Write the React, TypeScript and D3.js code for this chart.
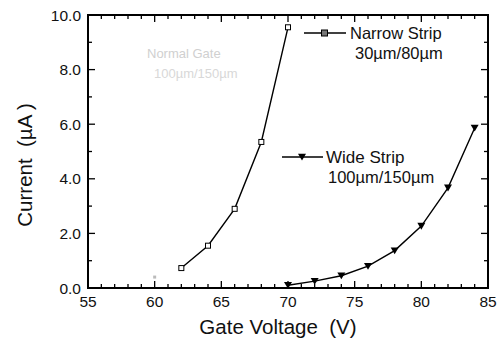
import React from "react";
import * as d3 from "d3";

const narrowX = [62, 64, 66, 68, 70];
const narrowY = [0.73, 1.55, 2.9, 5.35, 9.55];
const wideX = [70, 72, 74, 76, 78, 80, 82, 84];
const wideY = [0.1, 0.25, 0.45, 0.8, 1.37, 2.27, 3.67, 5.86];
const faintX = [60];
const faintY = [0.4];
const xTicks = [55, 60, 65, 70, 75, 80, 85];
const yTicks = [0, 2, 4, 6, 8, 10];
const xLabel = "Gate Voltage\u00a0 (V)";
const yLabel = "Current\u00a0 (\u00b5A )";

const W = 501, H = 341;
const L = 88, R = 488, T = 15, B = 288;

export default function App() {
  const x = d3.scaleLinear().domain([55, 85]).range([L, R]);
  const y = d3.scaleLinear().domain([0, 10]).range([B, T]);
  const line = d3.line<[number, number]>().x(d => x(d[0])).y(d => y(d[1]));
  const narrow = narrowX.map((v, i) => [v, narrowY[i]] as [number, number]);
  const wide = wideX.map((v, i) => [v, wideY[i]] as [number, number]);
  const xMinor = d3.range(55, 86, 1);
  const yMinor = d3.range(0, 10.01, 1);
  const font = "'Liberation Sans', Arial, sans-serif";
  const tri = (cx: number, cy: number, s: number) =>
    `M${cx - s},${cy - s * 0.8}L${cx + s},${cy - s * 0.8}L${cx},${cy + s * 0.9}Z`;
  return (
    <svg width={W} height={H} style={{ position: "absolute", left: 0, top: 0, background: "#fff" }} fontFamily={font}>
      <rect x={0} y={0} width={W} height={H} fill="#fff" />
      {xMinor.map(v => {
        const major = v % 5 === 0;
        const len = major ? 7 : 4;
        return (
          <g key={"x" + v} stroke="#000" strokeWidth={1.3}>
            <line x1={x(v)} x2={x(v)} y1={B} y2={B - len} />
            <line x1={x(v)} x2={x(v)} y1={T} y2={T + len} />
          </g>
        );
      })}
      {yMinor.map(v => {
        const major = v % 2 === 0;
        const len = major ? 7 : 4;
        return (
          <g key={"y" + v} stroke="#000" strokeWidth={1.3}>
            <line x1={L} x2={L + len} y1={y(v)} y2={y(v)} />
            <line x1={R} x2={R - len} y1={y(v)} y2={y(v)} />
          </g>
        );
      })}
      <rect x={L} y={T} width={R - L} height={B - T} fill="none" stroke="#000" strokeWidth={2} />
      {xTicks.map(v => (
        <text key={"xl" + v} x={x(v)} y={B + 19} fontSize={15.5} textAnchor="middle" fill="#111">{v}</text>
      ))}
      {yTicks.map(v => (
        <text key={"yl" + v} x={L - 7} y={y(v) + 5.5} fontSize={15.5} textAnchor="end" fill="#111">{v.toFixed(1)}</text>
      ))}
      <text x={(L + R) / 2 - 10} y={B + 46} fontSize={20.5} textAnchor="middle" fill="#111">{xLabel}</text>
      <text transform={`translate(32,165) rotate(-90)`} fontSize={20.5} textAnchor="middle" fill="#111">{yLabel}</text>

      {faintX.map((v, i) => (
        <rect key={"f" + i} x={x(v) - 1.5} y={y(faintY[i]) - 1.5} width={3} height={3} fill="#bbb" />
      ))}
      <text x={147} y={58} fontSize={13} fill="#d0d0d0">Normal Gate</text>
      <text x={154} y={78} fontSize={13} fill="#d8d8d8">100µm/150µm</text>

      <path d={line(narrow) || ""} fill="none" stroke="#000" strokeWidth={1.4} />
      {narrow.map((d, i) => (
        <rect key={"n" + i} x={x(d[0]) - 2.5} y={y(d[1]) - 2.5} width={5} height={5} fill="#fff" stroke="#000" strokeWidth={1} />
      ))}
      <path d={line(wide) || ""} fill="none" stroke="#000" strokeWidth={1.4} />
      {wide.map((d, i) => (
        <path key={"w" + i} d={tri(x(d[0]), y(d[1]), 4)} fill="#000" />
      ))}

      <line x1={304} x2={346} y1={33} y2={33} stroke="#000" strokeWidth={1.4} />
      <rect x={321.5} y={30} width={6} height={6} fill="#777" stroke="#000" strokeWidth={1} />
      <text x={350} y={39} fontSize={16.5} fill="#111">Narrow Strip</text>
      <text x={355} y={59} fontSize={16.5} fill="#111">30µm/80µm</text>

      <line x1={282} x2={323} y1={157} y2={157} stroke="#000" strokeWidth={1.4} />
      <path d={tri(302, 157, 4)} fill="#000" />
      <text x={326} y={163} fontSize={17} fill="#111">Wide Strip</text>
      <text x={328} y={183} fontSize={16.5} fill="#111">100µm/150µm</text>
    </svg>
  );
}
